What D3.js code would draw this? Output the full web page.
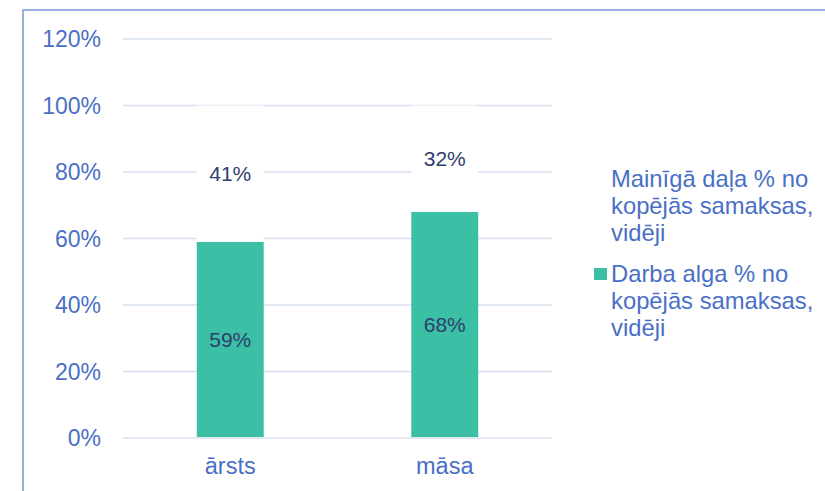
<!DOCTYPE html>
<html>
<head>
<meta charset="utf-8">
<script src="https://cdn.jsdelivr.net/npm/d3@7"></script>
<style>
  body{margin:0;background:#fff;}
  text{font-family:"Liberation Sans", Arial, sans-serif;}
</style>
</head>
<body>
<div id="container"></div>
<script>
  var categories = ["ārsts", "māsa"];
  var salaryShare = [59, 68];     // Darba alga % no kopējās samaksas
  var variableShare = [41, 32];   // Mainīgā daļa % no kopējās samaksas
  var yTicks = [0, 20, 40, 60, 80, 100, 120];
  var legendLabels = [
    ["Mainīgā daļa % no", "kopējās samaksas,", "vidēji"],
    ["Darba alga % no", "kopējās samaksas,", "vidēji"]
  ];

  var W = 825, H = 491;
  var margin = {top: 39, left: 123, right: 273, bottom: 53};
  var width = W - margin.left - margin.right,
      height = H - margin.top - margin.bottom;

  var axisColor = "#4a6fc6",
      gridColor = "#d9dff0",
      barColor = "#3bbfa5",
      labelColor = "#2e3e6e";

  var svg = d3.select("#container").append("svg")
      .attr("width", W)
      .attr("height", H);

  // outer frame (clipped by the canvas on right and bottom)
  svg.append("rect")
    .attr("x", 23).attr("y", 10)
    .attr("width", W).attr("height", H)
    .attr("fill", "none")
    .attr("stroke", "#7f9bd8")
    .attr("stroke-width", 1.6);

  var g = svg.append("g")
    .attr("transform", "translate(" + margin.left + "," + margin.top + ")");

  var y = d3.scaleLinear().domain([0, 120]).range([height, 0]);
  var x = d3.scaleBand().domain(categories).range([0, width])
    .paddingInner(0.688).paddingOuter(0.344);

  // gridlines
  g.selectAll(".grid").data(yTicks).enter().append("line")
    .attr("class", "grid")
    .attr("x1", 0).attr("x2", width)
    .attr("y1", d => y(d)).attr("y2", d => y(d))
    .attr("stroke", gridColor)
    .attr("stroke-width", 1.5);

  // y tick labels
  g.selectAll(".ylab").data(yTicks).enter().append("text")
    .attr("class", "ylab")
    .attr("x", -22)
    .attr("y", d => y(d))
    .attr("dy", "0.35em")
    .attr("text-anchor", "end")
    .attr("font-size", 23)
    .attr("fill", axisColor)
    .text(d => d + "%");

  // salary segments
  g.selectAll(".bar1").data(categories).enter().append("rect")
    .attr("class", "bar1")
    .attr("x", d => x(d))
    .attr("width", x.bandwidth())
    .attr("y", (d, i) => y(salaryShare[i]))
    .attr("height", (d, i) => y(0) - y(salaryShare[i]) - 1)
    .attr("fill", barColor);

  // variable segments (white)
  g.selectAll(".bar2").data(categories).enter().append("rect")
    .attr("class", "bar2")
    .attr("x", d => x(d))
    .attr("width", x.bandwidth())
    .attr("y", (d, i) => y(salaryShare[i] + variableShare[i]))
    .attr("height", (d, i) => y(salaryShare[i]) - y(salaryShare[i] + variableShare[i]))
    .attr("fill", "#fff");

  // value labels
  g.selectAll(".v1").data(categories).enter().append("text")
    .attr("x", d => x(d) + x.bandwidth() / 2)
    .attr("y", (d, i) => y(salaryShare[i] / 2))
    .attr("dy", "0.35em")
    .attr("text-anchor", "middle")
    .attr("font-size", 21)
    .attr("fill", labelColor)
    .text((d, i) => salaryShare[i] + "%");

  g.selectAll(".v2").data(categories).enter().append("text")
    .attr("x", d => x(d) + x.bandwidth() / 2)
    .attr("y", (d, i) => y(salaryShare[i] + variableShare[i] / 2))
    .attr("dy", "0.35em")
    .attr("text-anchor", "middle")
    .attr("font-size", 21)
    .attr("fill", labelColor)
    .text((d, i) => variableShare[i] + "%");

  // x labels
  g.selectAll(".xlab").data(categories).enter().append("text")
    .attr("x", d => x(d) + x.bandwidth() / 2)
    .attr("y", height + 36)
    .attr("text-anchor", "middle")
    .attr("font-size", 23.5)
    .attr("fill", axisColor)
    .text(d => d);

  // legend
  var legendTop = [187, 282];
  legendLabels.forEach(function(lines, i){
    var lg = svg.append("g");
    if(i == 1){
      lg.append("rect")
        .attr("x", 594).attr("y", legendTop[i] - 14)
        .attr("width", 13).attr("height", 12)
        .attr("fill", barColor);
    }
    lg.selectAll("text").data(lines).enter().append("text")
      .attr("x", 611)
      .attr("y", (d, j) => legendTop[i] + j * 27)
      .attr("font-size", 23.8)
      .attr("fill", axisColor)
      .text(d => d);
  });
</script>
</body>
</html>
